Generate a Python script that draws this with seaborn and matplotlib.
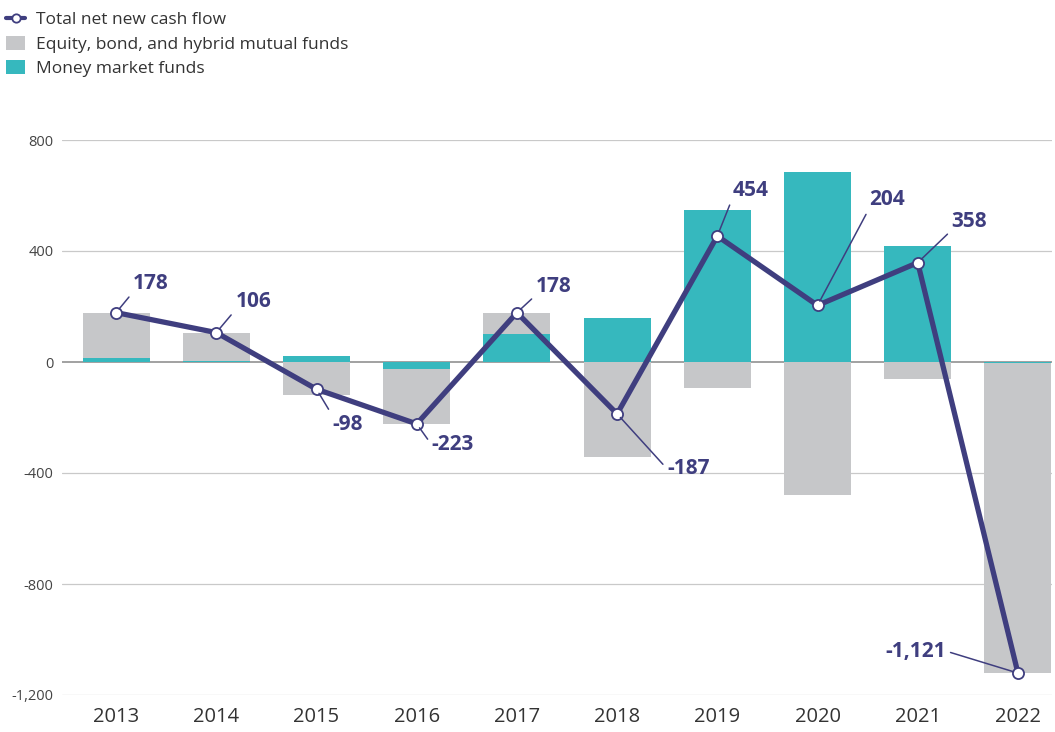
import numpy as np
import pandas as pd
import matplotlib
matplotlib.use("Agg")
import matplotlib.pyplot as plt
from matplotlib.lines import Line2D
from matplotlib.patches import Patch
import seaborn as sns

# DATA (billions of dollars)
years = ["2013", "2014", "2015", "2016", "2017", "2018", "2019", "2020", "2021", "2022"]
money_market = [15, 4, 21, -25, 102, 157, 548, 683, 419, -4]
equity_bond_hybrid = [163, 102, -119, -198, 76, -344, -94, -479, -61, -1117]
total_flow = [178, 106, -98, -223, 178, -187, 454, 204, 358, -1121]
total_labels = ["178", "106", "-98", "-223", "178", "-187", "454", "204", "358", "-1,121"]

# label offsets (pixels from point), alignment, leader anchor on text box
label_dx = [17, 19, 16, 15, 19, 50, 15, 52, 34, -72]
label_dy = [29, 31, -35, -21, 26, -55, 46, 106, 41, 22]
label_ha = ["left"] * 9 + ["right"]
label_rel = [(0, 0.1), (0, 0.1), (0, 0.9), (0, 0.5), (0, 0.1), (0, 0.5), (0, 0.1), (0, 0.1), (0, 0.1), (1, 0.5)]

NAVY = "#3f3e7f"
TEAL = "#36b8be"
GREY = "#c6c7c9"

sns.set_style("white")
plt.rcParams["font.family"] = ["Open Sans", "DejaVu Sans"]

df = pd.DataFrame({
    "year": years,
    "mm": money_market,
    "ebh": equity_bond_hybrid,
    "total": total_flow,
})
# grey bar spans both segments when they share a sign (teal drawn on top of it)
same_sign = np.sign(df["mm"]) == np.sign(df["ebh"])
df["grey_extent"] = np.where(same_sign, df["mm"] + df["ebh"], df["ebh"])

fig = plt.figure(figsize=(10.55, 7.32), dpi=100)
ax = fig.add_axes([62 / 1055, 37 / 732, 990 / 1055, 555 / 732])

for y in [-1200, -800, -400, 400, 800]:
    ax.axhline(y, color="#c9c9c9", lw=0.9, zorder=0)
ax.axhline(0, color="#9a9a9a", lw=1.3, zorder=0.5)

sns.barplot(data=df, x="year", y="grey_extent", color=GREY, width=0.67,
            saturation=1, linewidth=0, ax=ax, zorder=1)
sns.barplot(data=df, x="year", y="mm", color=TEAL, width=0.67,
            saturation=1, linewidth=0, ax=ax, zorder=2)

xpos = np.arange(len(years))
sns.lineplot(x=xpos, y=df["total"], color=NAVY, lw=3.8, marker="o",
             markersize=8, markerfacecolor="white", markeredgecolor=NAVY,
             markeredgewidth=1.3, ax=ax, zorder=4)

for i in range(len(years)):
    ax.annotate(total_labels[i], xy=(xpos[i], total_flow[i]),
                xytext=(label_dx[i], label_dy[i]), textcoords="offset pixels",
                ha=label_ha[i], va="center", fontsize=15, fontweight="bold",
                color=NAVY, zorder=5,
                arrowprops=dict(arrowstyle="-", color=NAVY, lw=1.1,
                                shrinkA=1, shrinkB=3.5,
                                relpos=label_rel[i]))

ax.set_xlim(-0.54, 9.34)
ax.set_ylim(-1200, 800)
ax.set_yticks([-1200, -800, -400, 0, 400, 800])
ax.set_yticklabels(["-1,200", "-800", "-400", "0", "400", "800"])
ax.tick_params(axis="y", length=0, pad=6, labelsize=10.5, labelcolor="#444444")
ax.tick_params(axis="x", length=0, pad=9, labelsize=14.5, labelcolor="#333333")
ax.set_xlabel("")
ax.set_ylabel("")
sns.despine(ax=ax, left=True, bottom=True)

handles = [
    Line2D([0], [0], color=NAVY, lw=3, marker="o", markersize=6,
           markerfacecolor="white", markeredgecolor=NAVY, markeredgewidth=1.3),
    Patch(facecolor=GREY, edgecolor="none"),
    Patch(facecolor=TEAL, edgecolor="none"),
]
leg_labels = ["Total net new cash flow", "Equity, bond, and hybrid mutual funds",
              "Money market funds"]
fig.legend(handles, leg_labels, loc="upper left", bbox_to_anchor=(0.0, 1 - 5 / 732),
           frameon=False, fontsize=12.5, handlelength=1.1, handleheight=0.9,
           handletextpad=0.6, labelspacing=0.42, borderaxespad=0.2,
           borderpad=0.15, labelcolor="#333333")

fig.savefig("out.png", dpi=100)
